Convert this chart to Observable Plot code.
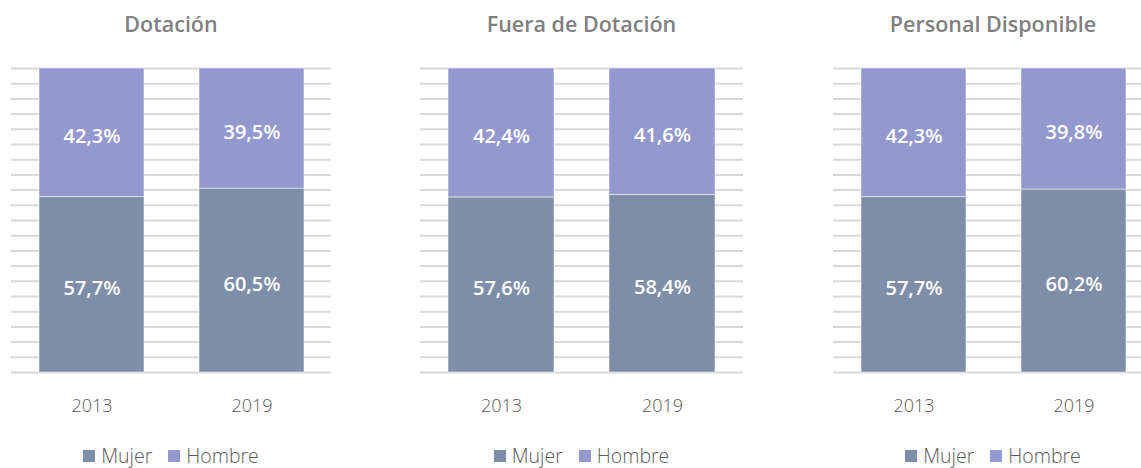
<!DOCTYPE html>
<html>
<head>
<meta charset="utf-8">
<script src="https://cdn.jsdelivr.net/npm/d3@7"></script>
<script src="https://cdn.jsdelivr.net/npm/@observablehq/plot@0.6"></script>
<style>
  html, body { margin: 0; padding: 0; background: #fff; }
  #wrap { position: relative; width: 1141px; height: 468px; overflow: hidden; font-family: "Open Sans", "Noto Sans", sans-serif; }
  .panel { position: absolute; top: 0; }
  .title { position: absolute; top: 9px; left: 0; width: 100%; text-align: center; font-size: 21.5px; font-weight: 600; color: #808080; }
  .legend { position: absolute; top: 445px; left: 0; width: 100%; height: 21px; line-height: 21px; text-align: center; font-size: 19.5px; font-weight: 300; color: #595959; white-space: nowrap; }
  .legend span.sw { display: inline-block; width: 12px; height: 12px; margin-right: 6px; vertical-align: 1px; }
  .legend span.item { margin: 0 8px; }
  .plotbox { position: absolute; top: 0; left: 0; }
</style>
</head>
<body>
<div id="wrap"></div>
<script>
const panels = ["Dotación", "Fuera de Dotación", "Personal Disponible"];
const years = ["2013", "2019"];
const series = ["Mujer", "Hombre"];
const mujer = [[57.7, 60.5], [57.6, 58.4], [57.7, 60.2]];
const hombre = [[42.3, 39.5], [42.4, 41.6], [42.3, 39.8]];
const colors = ["#7f8ea8", "#9399cf"];
const gridTicks = d3.range(0, 101, 5);

const panelLeft = [11, 420, 833];
const panelWidth = [320, 323, 320];

const wrap = document.getElementById("wrap");
const fmt = v => v.toFixed(1).replace(".", ",") + "%";

panels.forEach((name, i) => {
  const data = [];
  years.forEach((yr, j) => {
    data.push({year: yr, series: "Mujer", value: mujer[i][j]});
    data.push({year: yr, series: "Hombre", value: hombre[i][j]});
  });

  const div = document.createElement("div");
  div.className = "panel";
  div.style.left = panelLeft[i] + "px";
  div.style.width = panelWidth[i] + "px";
  div.style.height = "468px";

  const title = document.createElement("div");
  title.className = "title";
  title.textContent = name;
  div.appendChild(title);

  const plot = Plot.plot({
    width: panelWidth[i],
    height: 468,
    marginLeft: 0,
    marginRight: 0,
    marginTop: 68,
    marginBottom: 96,
    style: {fontFamily: "'Open Sans', 'Noto Sans', sans-serif", background: "transparent", overflow: "visible"},
    x: {domain: years, paddingInner: 0.344, paddingOuter: 0.172, label: null},
    y: {domain: [0, 100], axis: null},
    color: {domain: series, range: colors},
    marks: [
      Plot.ruleY(gridTicks, {stroke: "#d9d9d9", strokeWidth: 2}),
      Plot.barY(data, Plot.stackY({x: "year", y: "value", fill: "series", z: "series", stroke: "#ffffff", strokeOpacity: 0.5, strokeWidth: 1})),
      Plot.text(data, Plot.stackY({x: "year", y: "value", z: "series", text: d => fmt(d.value), fill: "white", fontSize: 20, fontWeight: 600, dy: 4})),
      Plot.axisX({tickSize: 0, tickPadding: 27, fontSize: 18, fontWeight: 300, fill: "#595959", label: null})
    ]
  });
  plot.classList.add("plotbox");
  div.appendChild(plot);

  const legend = document.createElement("div");
  legend.className = "legend";
  series.forEach((s, k) => {
    const item = document.createElement("span");
    item.className = "item";
    const sw = document.createElement("span");
    sw.className = "sw";
    sw.style.background = colors[k];
    item.appendChild(sw);
    item.appendChild(document.createTextNode(s));
    legend.appendChild(item);
  });
  div.appendChild(legend);

  wrap.appendChild(div);
});
</script>
</body>
</html>
